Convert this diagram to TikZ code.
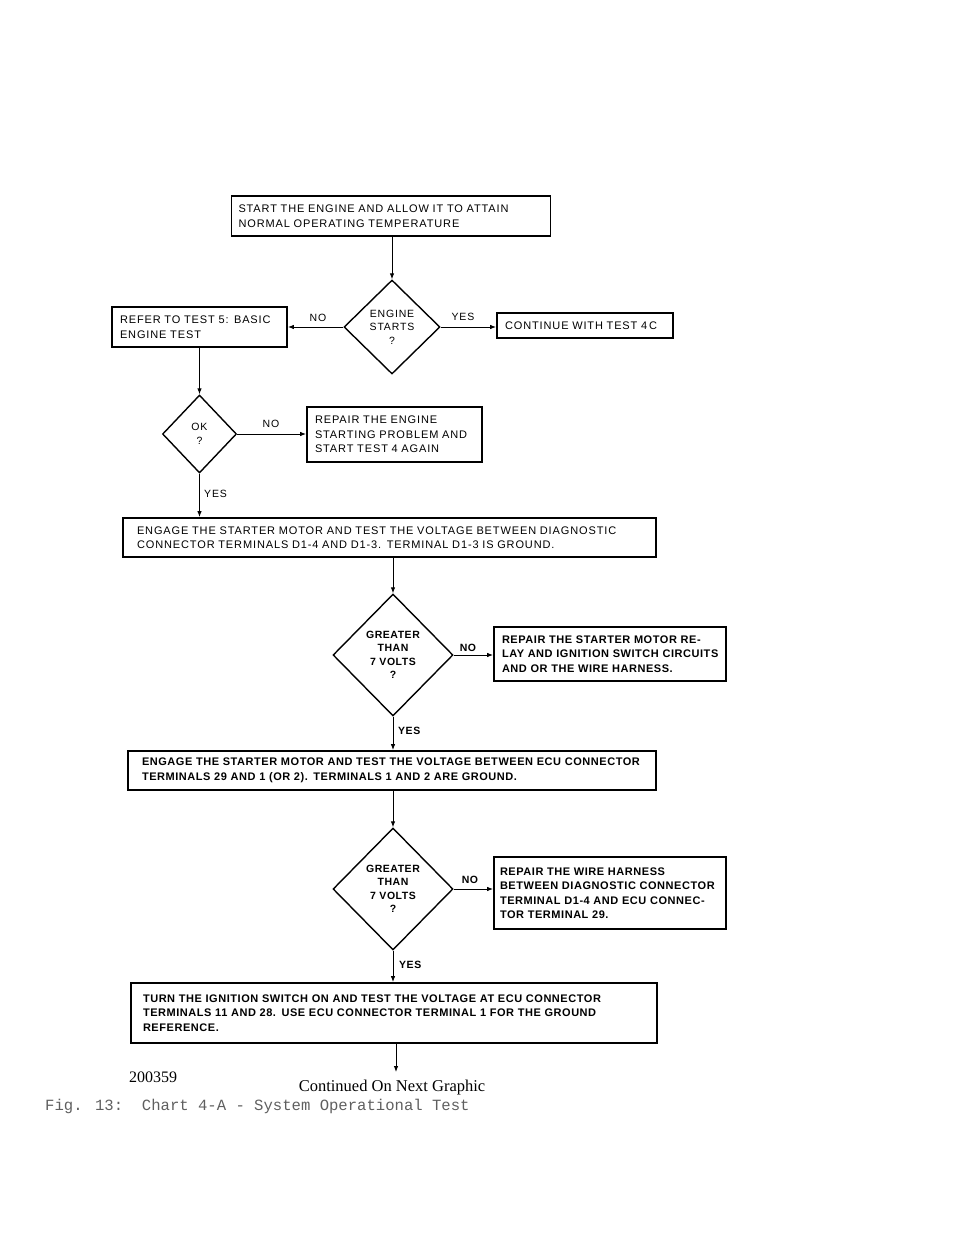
\documentclass[tikz,border=0pt]{standalone}
\usepackage{fontspec}
\setmainfont{Liberation Serif}
\newfontfamily\chartfont[LetterSpace=8]{Liberation Sans}
\newfontfamily\chartheavy[LetterSpace=5]{Liberation Sans}
\newfontfamily\figfont{Liberation Mono}
\usetikzlibrary{shapes.geometric,arrows.meta}
\definecolor{captiongray}{RGB}{95,95,95}
\begin{document}
\begin{tikzpicture}[x=1pt, y=-1pt,
    stepbox/.style={draw, line width=1.8pt, inner xsep=8pt, inner ysep=0pt, align=left,
      font=\chartfont\fontsize{11}{14.5}\selectfont},
    heavybox/.style={stepbox, font=\chartheavy\bfseries\fontsize{11}{14.5}\selectfont},
    query/.style={draw, diamond, line width=1.4pt, inner sep=0pt, align=center,
      font=\chartfont\fontsize{10.5}{13.5}\selectfont},
    heavyquery/.style={query, font=\chartheavy\bfseries\fontsize{10.5}{13.5}\selectfont},
    answer/.style={inner sep=0pt, font=\chartfont\fontsize{10.5}{12}\selectfont},
    heavyanswer/.style={answer, font=\chartheavy\bfseries\fontsize{10.5}{12}\selectfont},
    flow/.style={-{Latex[length=6pt,width=4.5pt]}, line width=0.9pt}]

\useasboundingbox (0,0) rectangle (960,1242);

% steps
\node (start) at (391,216) [stepbox, inner xsep=7pt, text width=305pt, minimum height=40pt]
  {START THE ENGINE AND ALLOW IT TO ATTAIN\\NORMAL OPERATING TEMPERATURE};
\node (refer) at (199.5,327) [stepbox, text width=159pt, minimum height=40pt]
  {REFER TO TEST 5: BASIC\\ENGINE TEST};
\node (cont) at (585,325.5) [stepbox, text width=160pt, minimum height=25pt]
  {CONTINUE WITH TEST 4\,C};
\node (repair1) at (394.5,434.5) [stepbox, text width=159pt, minimum height=55pt]
  {REPAIR THE ENGINE\\STARTING PROBLEM AND\\START TEST 4 AGAIN};
\node (engage1) at (389.5,537.5) [stepbox, inner xsep=14pt, text width=505pt, minimum height=39pt]
  {ENGAGE THE STARTER MOTOR AND TEST THE VOLTAGE BETWEEN DIAGNOSTIC\\CONNECTOR TERMINALS D1-4 AND D1-3. TERMINAL D1-3 IS GROUND.};
\node (repair2) at (610,654) [heavybox, text width=216pt, minimum height=54pt]
  {REPAIR THE STARTER MOTOR RE-\\LAY AND IGNITION SWITCH CIRCUITS\\AND OR THE WIRE HARNESS.};
\node (engage2) at (392,770.5) [heavybox, inner xsep=14pt, text width=500pt, minimum height=39pt]
  {ENGAGE THE STARTER MOTOR AND TEST THE VOLTAGE BETWEEN ECU CONNECTOR\\TERMINALS 29 AND 1 (OR 2). TERMINALS 1 AND 2 ARE GROUND.};
\node (repair3) at (610,893) [heavybox, inner xsep=6pt, text width=220pt, minimum height=72pt]
  {REPAIR THE WIRE HARNESS\\BETWEEN DIAGNOSTIC CONNECTOR\\TERMINAL D1-4 AND ECU CONNEC-\\TOR TERMINAL 29.};
\node (turn) at (394,1013) [heavybox, inner xsep=12pt, text width=502pt, minimum height=60pt]
  {TURN THE IGNITION SWITCH ON AND TEST THE VOLTAGE AT ECU CONNECTOR\\TERMINALS 11 AND 28. USE ECU CONNECTOR TERMINAL 1 FOR THE GROUND\\REFERENCE.};

% questions
\node (engine) at (392,327) [query, minimum width=96pt, minimum height=94pt] {ENGINE\\STARTS\\?};
\node (ok) at (199.5,434) [query, minimum width=74pt, minimum height=78pt] {OK\\?};
\node (volts1) at (393,655) [heavyquery, minimum width=120pt, minimum height=122pt] {GREATER\\THAN\\7 VOLTS\\?};
\node (volts2) at (393,889) [heavyquery, minimum width=120pt, minimum height=122pt] {GREATER\\THAN\\7 VOLTS\\?};
\coordinate (more) at (396,1072);

% connectors
\draw[flow] (start.south -| engine.north) -- (engine.north);
\draw[flow] (engine.west) -- (engine.west -| refer.east);
\draw[flow] (engine.east) -- (engine.east -| cont.west);
\draw[flow] (refer.south) -- (ok.north);
\draw[flow] (ok.east) -- (ok.east -| repair1.west);
\draw[flow] (ok.south) -- (ok.south |- engage1.north);
\draw[flow] (engage1.south -| volts1.north) -- (volts1.north);
\draw[flow] (volts1.east) -- (volts1.east -| repair2.west);
\draw[flow] (volts1.south) -- (volts1.south |- engage2.north);
\draw[flow] (engage2.south -| volts2.north) -- (volts2.north);
\draw[flow] (volts2.east) -- (volts2.east -| repair3.west);
\draw[flow] (volts2.south) -- (volts2.south |- turn.north);
\draw[flow] (turn.south -| more) -- (more);

% answers
\node (no1) at (318,318) [answer] {NO};
\node (yes1) at (463,317) [answer] {YES};
\node (no2) at (271,424) [answer] {NO};
\node (yes2) at (204,494) [answer, anchor=west] {YES};
\node (no3) at (468,648) [heavyanswer] {NO};
\node (yes3) at (398,731) [heavyanswer, anchor=west] {YES};
\node (no4) at (470,880) [heavyanswer] {NO};
\node (yes4) at (399,965) [heavyanswer, anchor=west] {YES};

% captions
\node (code) at (129,1077) [anchor=west, inner sep=0pt, font=\fontsize{16}{18}\selectfont] {200359};
\node (contd) at (392,1088) [inner sep=0pt, font=\fontsize{16.5}{18}\selectfont] {Continued On Next Graphic};
\node (fig) at (45,1106) [anchor=west, inner sep=0pt, text=captiongray, font=\figfont\fontsize{15.6}{18}\selectfont]
  {Fig. 13:\ \ Chart 4-A - System Operational Test};
\end{tikzpicture}
\end{document}
